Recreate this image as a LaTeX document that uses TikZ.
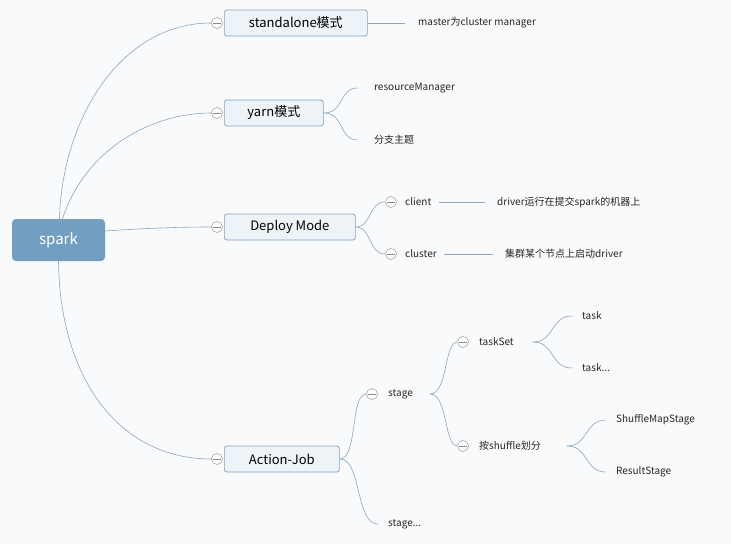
\documentclass[tikz,border=0pt]{standalone}
\usepackage{fontspec}
\setmainfont{Noto Sans CJK SC}
\definecolor{lk}{HTML}{8AA8C0}
\definecolor{rootc}{HTML}{729FC1}
\definecolor{bd}{HTML}{7FA3C2}
\definecolor{boxc}{HTML}{EEF3F8}
\definecolor{bgc}{HTML}{F8FAFC}
\begin{document}
\begin{tikzpicture}[x=1pt,y=-1pt,
  conn/.style={draw=lk,line width=0.6pt},
  root/.style={rounded corners=4pt,fill=rootc,text=white,minimum width=93pt,minimum height=42pt,font=\fontsize{15}{17}\selectfont,inner sep=0pt},
  lv1/.style={rounded corners=2.5pt,draw=bd,fill=boxc,line width=0.7pt,minimum height=26pt,font=\fontsize{13}{15}\selectfont,inner sep=0pt,anchor=west},
  lf/.style={anchor=west,font=\fontsize{10}{12}\selectfont,inner sep=1pt,text=black!85},
  col/.style={circle,draw=gray!80,fill=white,minimum size=11pt,inner sep=0pt,line width=0.5pt,
    path picture={\draw[gray!90,line width=0.5pt] ([xshift=-3.8pt]path picture bounding box.center)--([xshift=3.8pt]path picture bounding box.center);}}]
\fill[bgc] (0,0) rectangle (731,544);
\useasboundingbox (0,0) rectangle (731,544);
% root
\node[root] (spark) at (58.5,240) {spark};
% level1
\node[lv1,minimum width=143pt] (sa) at (224,23) {standalone模式};
\node[lv1,minimum width=99pt] (yarn) at (224,113) {yarn模式};
\node[lv1,minimum width=131pt] (dm) at (224,227) {Deploy Mode};
\node[lv1,minimum width=115pt] (aj) at (224,459) {Action-Job};
\node[col] (csa) at (217,23) {};
\node[col] (cyarn) at (217,113) {};
\node[col] (cdm) at (217,227) {};
\node[col] (caj) at (217,459) {};
\draw[conn] (spark.north) ++(1,0) coordinate (s1) (s1) .. controls (62,120) and (120,23) .. (csa.west);
\draw[conn] (spark.north) ++(4,0) coordinate (s2) (s2) .. controls (85,150) and (150,113) .. (cyarn.west);
\draw[conn] (spark.east) ++(0,-9) coordinate (s3) (s3) .. controls (150,228) and (180,227) .. (cdm.west);
\draw[conn] (spark.south) coordinate (s4) (s4) .. controls (60,380) and (120,459) .. (caj.west);
% standalone
\node[lf] (ma) at (417,23) {master为cluster manager};
\coordinate (ma0) at (405,23);
\draw[conn] (sa.east) -- (ma0);
% yarn
\node[lf] (rm) at (373,88) {resourceManager};
\node[lf] (fz) at (373,140) {分支主题};
\coordinate (rm0) at (358,88);
\coordinate (fz0) at (358,140);
\draw[conn] (yarn.east) .. controls (345,113) and (338,88) .. (rm0);
\draw[conn] (yarn.east) .. controls (345,113) and (338,140) .. (fz0);
% deploy
\node[col] (ccl) at (391,202) {};
\node[col] (ccu) at (391,254) {};
\node[lf] (cl) at (404,202) {client};
\node[lf] (cu) at (404,254) {cluster};
\draw[conn] (dm.east) .. controls (372,227) and (368,202) .. (ccl.west);
\draw[conn] (dm.east) .. controls (372,227) and (368,254) .. (ccu.west);
\node[lf] (dr) at (496,202) {driver运行在提交spark的机器上};
\node[lf] (jq) at (504,254) {集群某个节点上启动driver};
\coordinate (dr0) at (485,202);
\coordinate (jq0) at (493,254);
\draw[conn] (cl.east) ++(6,0) coordinate (cl1) (cl1) -- (dr0);
\draw[conn] (cu.east) ++(6,0) coordinate (cu1) (cu1) -- (jq0);
% action job
\node[col] (cst) at (372,394) {};
\node[lf] (st) at (387,394) {stage};
\node[lf] (st2) at (387,524) {stage...};
\coordinate (st20) at (378,524);
\draw[conn] (aj.east) .. controls (358,459) and (350,394) .. (cst.west);
\draw[conn] (aj.east) .. controls (362,459) and (355,524) .. (st20);
\node[col] (cts) at (463,342) {};
\node[col] (csh) at (463,446) {};
\node[lf] (ts) at (478,342) {taskSet};
\node[lf] (sh) at (478,446) {按shuffle划分};
\coordinate (st1) at (430,394);
\draw[conn] (st1) .. controls (448,394) and (444,342) .. (cts.west);
\draw[conn] (st1) .. controls (448,394) and (444,446) .. (csh.west);
\node[lf] (t1) at (581,316) {task};
\node[lf] (t2) at (581,368) {task...};
\coordinate (t10) at (572,316);
\coordinate (t20) at (572,368);
\coordinate (ts1) at (533,342);
\draw[conn] (ts1) .. controls (555,342) and (550,316) .. (t10);
\draw[conn] (ts1) .. controls (555,342) and (550,368) .. (t20);
\node[lf] (sm) at (615,420) {ShuffleMapStage};
\node[lf] (rs) at (615,472) {ResultStage};
\coordinate (sm0) at (606,420);
\coordinate (rs0) at (606,472);
\coordinate (sh1) at (567,446);
\draw[conn] (sh1) .. controls (589,446) and (584,420) .. (sm0);
\draw[conn] (sh1) .. controls (589,446) and (584,472) .. (rs0);
\end{tikzpicture}
\end{document}
